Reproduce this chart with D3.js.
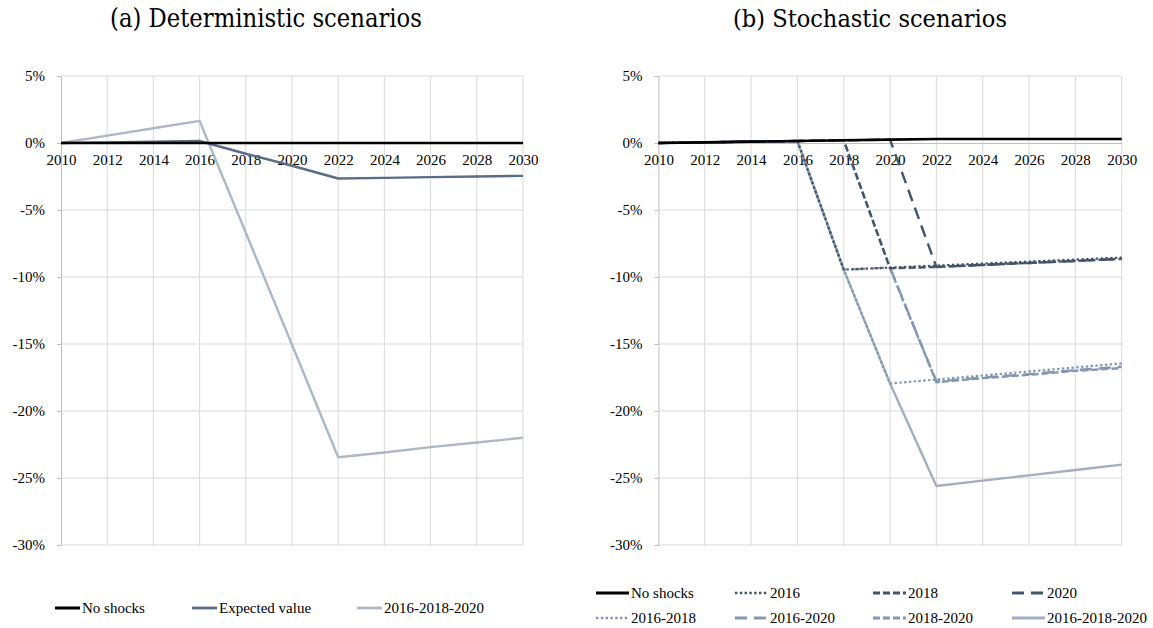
<!DOCTYPE html>
<html>
<head>
<meta charset="utf-8">
<script src="https://cdn.jsdelivr.net/npm/d3@7"></script>
<style>
  html, body { margin: 0; padding: 0; background: #fff; }
  svg { display: block; }
</style>
</head>
<body>
<svg id="chart" width="1153" height="628"></svg>
<script>
// ---------- data ----------
const years = [2010, 2012, 2014, 2016, 2018, 2020, 2022, 2024, 2026, 2028, 2030];
const yTicks = [5, 0, -5, -10, -15, -20, -25, -30];

// panel (a) deterministic scenarios (% deviation)
const detNoShocks   = [0, 0, 0, 0, 0, 0, 0, 0, 0, 0, 0];
const detExpected   = [0, 0.05, 0.1, 0.15, -0.8, -1.7, -2.65, -2.6, -2.55, -2.5, -2.45];
const det161820     = [0, 0.55, 1.1, 1.65, -6.7, -15.05, -23.45, -23.1, -22.7, -22.35, -22.0];

// panel (b) stochastic scenarios (% deviation)
const stoNoShocks   = [0, 0.05, 0.1, 0.15, 0.2, 0.25, 0.3, 0.3, 0.3, 0.3, 0.3];
const sto2016       = [0, 0.05, 0.1, 0.15, -9.45, -9.3, -9.15, -9.0, -8.85, -8.7, -8.55];
const sto2018       = [0, 0.05, 0.1, 0.15, 0.2, -9.35, -9.25, -9.1, -8.95, -8.8, -8.65];
const sto2020       = [0, 0.05, 0.1, 0.15, 0.2, 0.25, -9.25, -9.1, -8.95, -8.8, -8.65];
const sto2016_2018  = [0, 0.05, 0.1, 0.15, -9.45, -17.95, -17.65, -17.35, -17.05, -16.75, -16.45];
const sto2016_2020  = [0, 0.05, 0.1, 0.15, -9.45, -9.3, -17.8, -17.5, -17.25, -16.95, -16.7];
const sto2018_2020  = [0, 0.05, 0.1, 0.15, 0.2, -9.35, -17.85, -17.55, -17.3, -17.0, -16.8];
const sto161820     = [0, 0.05, 0.1, 0.15, -9.45, -17.95, -25.6, -25.2, -24.8, -24.4, -24.0];

const DARK = "#44546A", LIGHT = "#8497B0";
const SERIF = "'Liberation Serif', 'Times New Roman', serif";
const TITLEFONT = "'DejaVu Serif Condensed', 'DejaVu Serif', serif";

const panels = [
  {
    title: "(a) Deterministic scenarios", titleX: 266, titleW: 312,
    x0: 61, x1: 523,
    series: [
      { name: "No shocks", values: detNoShocks, color: "#000000", dash: null, w: 2.6 },
      { name: "Expected value", values: detExpected, color: "#5A6D86", dash: null, w: 2.4 },
      { name: "2016-2018-2020", values: det161820, color: "#ADB8C7", dash: null, w: 2.4 }
    ],
    legend: { cols: [55, 192, 357], rows: [608], lineLen: 25, gap: 27, perRow: 3 }
  },
  {
    title: "(b) Stochastic scenarios", titleX: 870, titleW: 274,
    x0: 658.4, x1: 1121.7,
    series: [
      { name: "No shocks", values: stoNoShocks, color: "#000000", dash: null, w: 2.6 },
      { name: "2016", values: sto2016, color: DARK, dash: "2.4,2.4", w: 2.2 },
      { name: "2018", values: sto2018, color: DARK, dash: "7,3", w: 2.4 },
      { name: "2020", values: sto2020, color: DARK, dash: "12,7", w: 2.4 },
      { name: "2016-2018", values: sto2016_2018, color: LIGHT, dash: "2.4,2.4", w: 2.2 },
      { name: "2016-2020", values: sto2016_2020, color: LIGHT, dash: "12,7", w: 2.4 },
      { name: "2018-2020", values: sto2018_2020, color: LIGHT, dash: "7,3", w: 2.4 },
      { name: "2016-2018-2020", values: sto161820, color: "#A3AEBE", dash: null, w: 2.4 }
    ],
    legend: { cols: [596, 735, 873, 1012], rows: [593, 618], lineLen: 33, gap: 35, perRow: 4 }
  }
];

const svg = d3.select("#chart");
const yTop = 76, yBot = 545;
const y = d3.scaleLinear().domain([5, -30]).range([yTop, yBot]);

panels.forEach(p => {
  const x = d3.scaleLinear().domain([2010, 2030]).range([p.x0, p.x1]);
  const g = svg.append("g");

  // title
  const t = g.append("text")
    .attr("x", p.titleX).attr("y", 27)
    .attr("text-anchor", "middle")
    .style("font-family", TITLEFONT)
    .style("font-size", "20px")
    .style("fill", "#000")
    .text(p.title);
  const w = t.node().getComputedTextLength();
  if (w > 0) t.style("font-size", (20 * p.titleW / w).toFixed(2) + "px");

  // horizontal gridlines
  g.append("g").selectAll("line").data(yTicks.filter(v => v !== 0)).join("line")
    .attr("x1", p.x0).attr("x2", p.x1)
    .attr("y1", d => y(d)).attr("y2", d => y(d))
    .attr("stroke", "#D9D9D9").attr("stroke-width", 1);

  // vertical gridlines
  g.append("g").selectAll("line").data(years.filter(v => v !== 2010)).join("line")
    .attr("x1", d => x(d)).attr("x2", d => x(d))
    .attr("y1", yTop).attr("y2", yBot)
    .attr("stroke", "#D9D9D9").attr("stroke-width", 1);

  // y axis
  const yAxis = d3.axisLeft(y).tickValues(yTicks).tickSize(4).tickPadding(12)
    .tickFormat(d => d + "%");
  const ya = g.append("g").attr("transform", `translate(${p.x0},0)`).call(yAxis);
  ya.select(".domain").attr("stroke", "#BFBFBF").attr("stroke-width", 1);
  ya.selectAll(".tick line").attr("stroke", "#BFBFBF");
  ya.selectAll(".tick text")
    .style("font-family", SERIF).style("font-size", "15px").style("fill", "#000");

  // x axis at 0%
  const xAxis = d3.axisBottom(x).tickValues(years).tickSize(0).tickPadding(11)
    .tickFormat(d3.format("d"));
  const xa = g.append("g").attr("transform", `translate(0,${y(0)})`).call(xAxis);
  xa.select(".domain").attr("stroke", "#BFBFBF").attr("stroke-width", 1);
  xa.selectAll(".tick text")
    .style("font-family", SERIF).style("font-size", "15px").style("fill", "#000");

  // lines (draw last series first so darker lines sit on top)
  const line = d3.line().x((d, i) => x(years[i])).y(d => y(d));
  const order = p.series.slice().reverse();
  g.append("g").selectAll("path").data(order).join("path")
    .attr("d", s => line(s.values))
    .attr("fill", "none")
    .attr("stroke", s => s.color)
    .attr("stroke-width", s => s.w)
    .attr("stroke-dasharray", s => s.dash)
    .attr("stroke-linejoin", "round");

  // legend
  const L = p.legend;
  const lg = g.append("g").selectAll("g").data(p.series).join("g")
    .attr("transform", (s, i) => `translate(${L.cols[i % L.perRow]},${L.rows[Math.floor(i / L.perRow)]})`);
  lg.append("line")
    .attr("x1", 0).attr("x2", L.lineLen).attr("y1", 0).attr("y2", 0)
    .attr("stroke", s => s.color).attr("stroke-width", s => s.w + 0.4)
    .attr("stroke-dasharray", s => s.dash);
  lg.append("text")
    .attr("x", L.gap).attr("y", 5)
    .style("font-family", SERIF).style("font-size", "15px").style("fill", "#000")
    .text(s => s.name);
});
</script>
</body>
</html>
